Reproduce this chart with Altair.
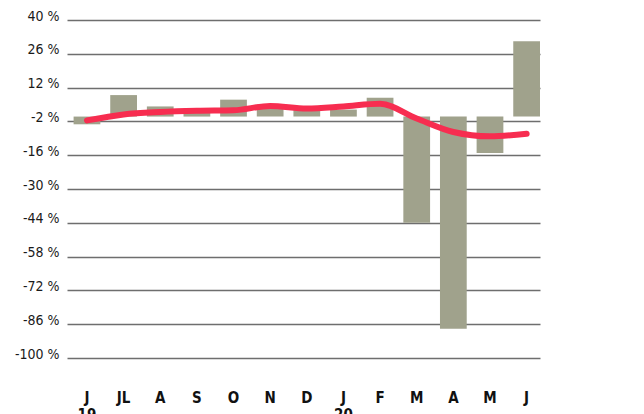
import altair as alt
import pandas as pd

keys = ["2019-06", "2019-07", "2019-08", "2019-09", "2019-10", "2019-11", "2019-12",
        "2020-01", "2020-02", "2020-03", "2020-04", "2020-05", "2020-06"]
labels = ["J", "JL", "A", "S", "O", "N", "D", "J", "F", "M", "A", "M", "J"]
bar_values = [-3.2, 8.9, 4.2, 3.4, 7.0, 5.0, 3.3, 2.9, 7.8, -44.0, -87.9, -15.1, 31.2]
line_values = [-1.6, 0.9, 1.9, 2.4, 2.6, 4.4, 3.3, 4.2, 5.3, -0.8, -6.4, -8.2, -7.1]
y_ticks = [40, 26, 12, -2, -16, -30, -44, -58, -72, -86, -100]
year_keys = ["2019-06", "2020-01"]
year_labels = ["19", "20"]

df = pd.DataFrame({"key": keys, "bar": bar_values, "line": line_values})
years = pd.DataFrame({"key": year_keys, "year": year_labels})

key_list = "[" + ",".join(f"'{k}'" for k in keys) + "]"
lab_list = "[" + ",".join(f"'{l}'" for l in labels) + "]"

x_scale = alt.Scale(domain=keys, paddingInner=0.27, paddingOuter=0.09, align=1)
x_enc = alt.X(
    "key:N", sort=keys, scale=x_scale, title=None,
    axis=alt.Axis(
        labelExpr=f"{lab_list}[indexof({key_list}, datum.value)]",
        labelAngle=0, labelFont="DejaVu Sans Condensed", labelFontWeight="bold",
        labelFontSize=15, labelColor="#111", labelPadding=32,
        ticks=False, domain=False, grid=False,
    ),
)
y_scale = alt.Scale(domain=[-100, 40], nice=False, zero=False)

y_axis = alt.Axis(
    values=y_ticks, tickCount=20, labelExpr="datum.value + ' %'",
    labelFont="DejaVu Sans Condensed", labelFontSize=14, labelColor="#1a1a1a",
    labelBaseline="alphabetic", labelPadding=8, labelOverlap=False,
    ticks=False, domain=False, grid=True, gridColor="#6e6e6e", gridWidth=1.6,
)

bars = alt.Chart(df).mark_bar(color="#a0a28c").encode(
    x=x_enc,
    y=alt.Y("bar:Q", scale=y_scale, title=None, axis=y_axis),
)

line = alt.Chart(df).mark_line(
    color="#f72d50", strokeWidth=6, interpolate="monotone", strokeCap="round"
).encode(
    x=alt.X("key:N", sort=keys, scale=x_scale),
    y=alt.Y("line:Q", scale=y_scale),
)

year_text = alt.Chart(years).mark_text(
    font="DejaVu Sans Condensed", fontWeight="bold", fontSize=15,
    baseline="top", color="#111",
).encode(
    x=alt.X("key:N", sort=keys, scale=x_scale),
    y=alt.value(388),
    text="year:N",
)

chart = alt.layer(bars, line, year_text).properties(
    width=473, height=338,
    autosize=alt.AutoSizeParams(type="none"),
    padding={"left": 59, "top": 12, "right": 96, "bottom": 60},
).configure_view(stroke=None)

chart.save("out.html", embed_options={"renderer": "svg", "actions": False})
